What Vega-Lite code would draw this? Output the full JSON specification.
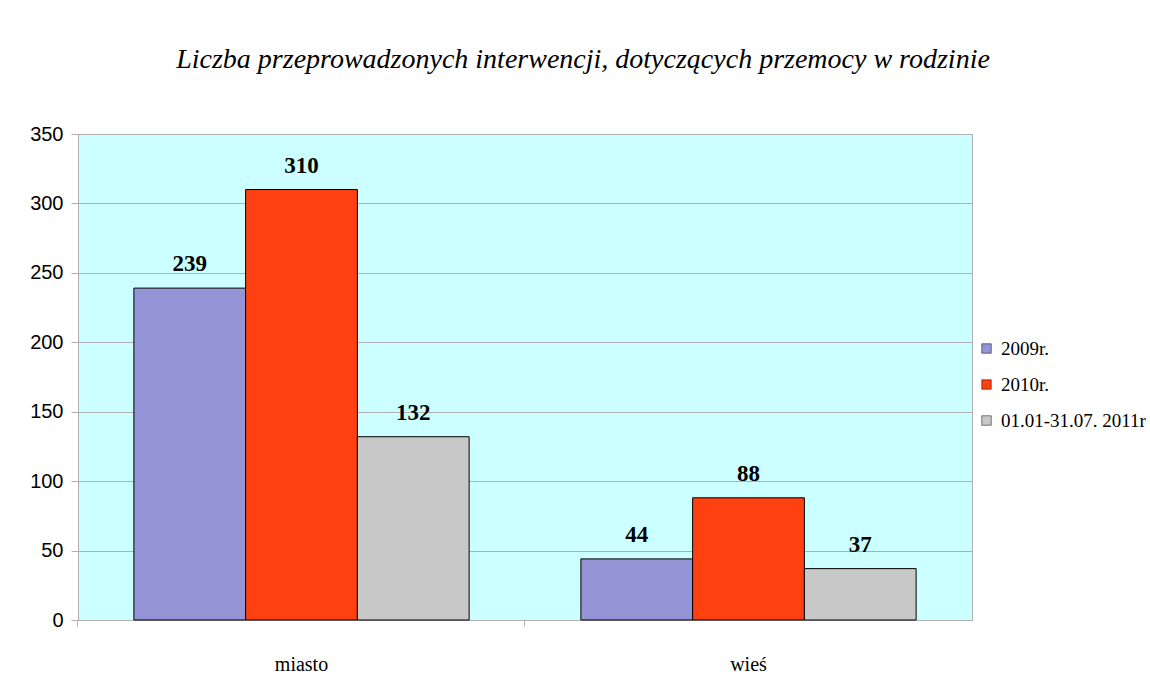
{
  "$schema": "https://vega.github.io/schema/vega-lite/v6.json",
  "autosize": {"type": "none"},
  "width": 894,
  "height": 486,
  "padding": {"left": 78, "top": 134, "right": 178, "bottom": 73},
  "background": "white",
  "title": {
    "text": "Liczba przeprowadzonych interwencji, dotyczących przemocy w rodzinie",
    "font": "Liberation Serif",
    "fontStyle": "italic",
    "fontWeight": "normal",
    "fontSize": 28,
    "color": "black",
    "anchor": "middle",
    "dx": 58,
    "offset": 50
  },
  "data": {
    "values": [
      {"kategoria": "miasto", "okres": "2009r.", "liczba": 239},
      {"kategoria": "miasto", "okres": "2010r.", "liczba": 310},
      {"kategoria": "miasto", "okres": "01.01-31.07. 2011r", "liczba": 132},
      {"kategoria": "wieś", "okres": "2009r.", "liczba": 44},
      {"kategoria": "wieś", "okres": "2010r.", "liczba": 88},
      {"kategoria": "wieś", "okres": "01.01-31.07. 2011r", "liczba": 37}
    ]
  },
  "encoding": {
    "x": {
      "field": "kategoria",
      "type": "nominal",
      "sort": ["miasto", "wieś"],
      "scale": {"paddingInner": 0.25, "paddingOuter": 0.125},
      "axis": {
        "title": null,
        "labelAngle": 0,
        "labelFont": "Liberation Serif",
        "labelFontSize": 20,
        "labelColor": "black",
        "labelPadding": 28,
        "bandPosition": -0.1667,
        "tickColor": "#b0b0b0",
        "tickSize": 6,
        "domainColor": "#b0b0b0",
        "grid": false
      }
    },
    "xOffset": {
      "field": "okres",
      "type": "nominal",
      "sort": ["2009r.", "2010r.", "01.01-31.07. 2011r"],
      "scale": {"paddingInner": 0, "paddingOuter": 0}
    },
    "y": {
      "field": "liczba",
      "type": "quantitative",
      "scale": {"domain": [0, 350]},
      "axis": {
        "title": null,
        "values": [0, 50, 100, 150, 200, 250, 300, 350],
        "labelFont": "Liberation Sans",
        "labelFontSize": 20,
        "labelColor": "black",
        "labelPadding": 8,
        "tickColor": "#b0b0b0",
        "tickSize": 7,
        "domainColor": "#b0b0b0",
        "gridColor": "#b0b0b0",
        "gridOpacity": 1
      }
    }
  },
  "layer": [
    {
      "mark": {"type": "bar", "stroke": "black", "strokeWidth": 1},
      "encoding": {
        "color": {
          "field": "okres",
          "type": "nominal",
          "sort": ["2009r.", "2010r.", "01.01-31.07. 2011r"],
          "scale": {
            "domain": ["2009r.", "2010r.", "01.01-31.07. 2011r"],
            "range": ["#9393d6", "#ff4010", "#c8c8c8"]
          },
          "legend": {
            "title": null,
            "orient": "none",
            "legendX": 899,
            "legendY": 205,
            "symbolType": "square",
            "symbolSize": 90,
            "symbolStrokeColor": "black",
            "symbolStrokeWidth": 0.5,
            "labelFont": "Liberation Serif",
            "labelFontSize": 19,
            "labelColor": "black",
            "labelOffset": 5,
            "rowPadding": 16,
            "padding": 0
          }
        }
      }
    },
    {
      "mark": {
        "type": "text",
        "font": "Liberation Serif",
        "fontWeight": "bold",
        "fontSize": 23,
        "color": "black",
        "baseline": "alphabetic",
        "dy": -17
      },
      "encoding": {
        "text": {"field": "liczba", "type": "quantitative"}
      }
    }
  ],
  "config": {
    "view": {"fill": "#ccffff", "stroke": "#b0b0b0"},
    "axisX": {"labelFont": "Liberation Serif", "labelFontSize": 20}
  }
}
